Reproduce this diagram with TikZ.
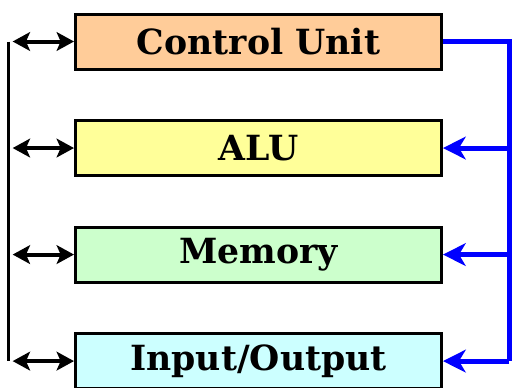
\documentclass[tikz,border=0pt]{standalone}
\usepackage{fontspec}
\setmainfont{DejaVu Serif}
\usetikzlibrary{positioning,arrows.meta}
\definecolor{cupeach}{RGB}{255,204,153}
\definecolor{aluyellow}{RGB}{255,255,153}
\definecolor{memgreen}{RGB}{204,255,204}
\definecolor{iocyan}{RGB}{204,255,255}
\definecolor{busblue}{RGB}{0,0,255}
\begin{document}
\begin{tikzpicture}[x=0.75pt,y=-0.75pt,
    unitbox/.style={draw=black, line width=2.25pt, minimum width=274.5pt, minimum height=41.25pt,
        font=\fontsize{26}{28}\selectfont\bfseries, inner sep=0pt},
    node distance=36.4pt]
    \useasboundingbox (0,0) rectangle (512,387);

    % Le quattro unita
    \node[unitbox, fill=cupeach] (cu) at (258.5,41.5) {Control Unit};
    \node[unitbox, fill=aluyellow, below=of cu] (alu) {ALU};
    \node[unitbox, fill=memgreen, below=of alu] (mem) {Memory};
    \node[unitbox, fill=iocyan, below=of mem] (io) {Input/Output};

    % Bus a sinistra (frecce doppie)
    \coordinate (ltop) at ([xshift=-49.5pt]cu.west);
    \coordinate (lbot) at ([xshift=-49.5pt]io.west);
    \draw[line width=2.25pt] (ltop) -- (lbot);
    \foreach \b in {cu,alu,mem,io} {
        \coordinate (l\b) at ([xshift=-46pt]\b.west);
        \draw[line width=3pt, {Stealth[length=13pt,width=14pt,inset=3pt]}-{Stealth[length=13pt,width=14pt,inset=3pt]}] (l\b) -- (\b.west);
    }

    % Segnali di controllo (blu)
    \coordinate (rio) at ([xshift=49.5pt]io.east);
    \draw[busblue, line width=3.75pt] (cu.east) -| (rio);
    \foreach \b in {alu,mem,io} {
        \coordinate (r\b) at ([xshift=49.5pt]\b.east);
        \draw[busblue, line width=3.75pt, -{Stealth[length=17pt,width=17pt,inset=5pt]}] (r\b) -- (\b.east);
    }
\end{tikzpicture}
\end{document}
